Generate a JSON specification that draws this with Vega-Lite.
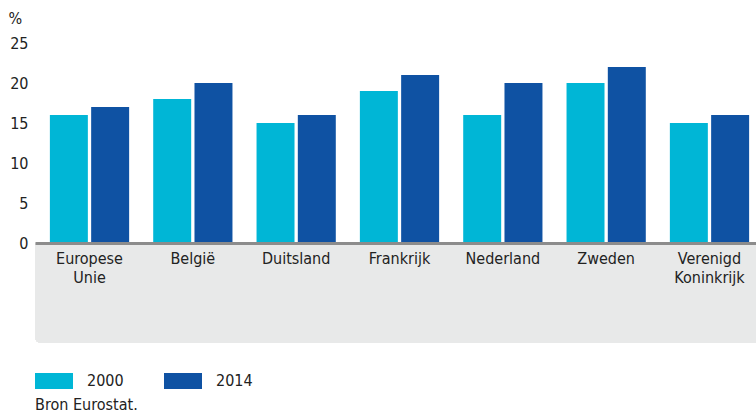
{
  "$schema": "https://vega.github.io/schema/vega-lite/v6.json",
  "width": 729,
  "height": 200,
  "autosize": {"type": "none"},
  "padding": {"left": 35, "top": 43, "right": 0, "bottom": 173},
  "background": "white",
  "config": {
    "font": "DejaVu Sans Condensed",
    "view": {"stroke": null},
    "axis": {"labelFont": "DejaVu Sans Condensed", "titleFont": "DejaVu Sans Condensed"},
    "legend": {"labelFont": "DejaVu Sans Condensed"},
    "title": {"font": "DejaVu Sans Condensed"}
  },
  "title": {
    "text": "Bron Eurostat.",
    "orient": "bottom",
    "anchor": "start",
    "frame": "group",
    "fontSize": 16,
    "fontWeight": "normal",
    "color": "#222222",
    "offset": 8
  },
  "data": {
    "values": [
      {"land": "Europese Unie", "jaar": "2000", "waarde": 16},
      {"land": "Europese Unie", "jaar": "2014", "waarde": 17},
      {"land": "België", "jaar": "2000", "waarde": 18},
      {"land": "België", "jaar": "2014", "waarde": 20},
      {"land": "Duitsland", "jaar": "2000", "waarde": 15},
      {"land": "Duitsland", "jaar": "2014", "waarde": 16},
      {"land": "Frankrijk", "jaar": "2000", "waarde": 19},
      {"land": "Frankrijk", "jaar": "2014", "waarde": 21},
      {"land": "Nederland", "jaar": "2000", "waarde": 16},
      {"land": "Nederland", "jaar": "2014", "waarde": 20},
      {"land": "Zweden", "jaar": "2000", "waarde": 20},
      {"land": "Zweden", "jaar": "2014", "waarde": 22},
      {"land": "Verenigd Koninkrijk", "jaar": "2000", "waarde": 15},
      {"land": "Verenigd Koninkrijk", "jaar": "2014", "waarde": 16}
    ]
  },
  "layer": [
    {
      "mark": {"type": "rect", "color": "#e8e9e9", "cornerRadiusBottomLeft": 6},
      "encoding": {
        "x": {"value": 0},
        "x2": {"value": "width"},
        "y": {
          "datum": 0,
          "type": "quantitative",
          "scale": {"domain": [0, 25], "nice": false, "zero": false},
          "axis": {
            "values": [0, 5, 10, 15, 20, 25],
            "labelOverlap": false,
            "title": "%",
            "titleAngle": 0,
            "titleAlign": "left",
            "titleBaseline": "alphabetic",
            "titleX": -27,
            "titleY": -20,
            "titleFontSize": 16,
            "titleFontWeight": "normal",
            "titleColor": "#222222",
            "domain": false,
            "ticks": false,
            "labelFontSize": 16,
            "labelColor": "#222222",
            "labelPadding": 7,
            "gridColor": "#8c8c8c",
            "gridWidth": 1
          }
        },
        "y2": {"datum": -12.5}
      }
    },
    {
      "mark": {"type": "bar"},
      "encoding": {
        "x": {
          "field": "land",
          "type": "nominal",
          "sort": null,
          "scale": {"paddingInner": 0.233, "paddingOuter": 0.144},
          "axis": {
            "title": null,
            "labelAngle": 0,
            "ticks": false,
            "domain": true,
            "domainColor": "#8c8c8c",
            "domainWidth": 3,
            "labelFontSize": 16,
            "labelColor": "#222222",
            "labelPadding": 7,
            "labelLineHeight": 19,
            "labelBaseline": "top",
            "labelExpr": "split(datum.label, ' ')",
            "zindex": 2
          }
        },
        "xOffset": {
          "field": "jaar",
          "type": "nominal",
          "scale": {"paddingInner": 0.08}
        },
        "y": {
          "field": "waarde",
          "type": "quantitative",
          "scale": {"domain": [0, 25], "nice": false, "zero": false},
          "axis": {
            "values": [0, 5, 10, 15, 20, 25],
            "labelOverlap": false,
            "title": "%",
            "titleAngle": 0,
            "titleAlign": "left",
            "titleBaseline": "alphabetic",
            "titleX": -27,
            "titleY": -20,
            "titleFontSize": 16,
            "titleFontWeight": "normal",
            "titleColor": "#222222",
            "domain": false,
            "ticks": false,
            "labelFontSize": 16,
            "labelColor": "#222222",
            "labelPadding": 7,
            "gridColor": "#8c8c8c",
            "gridWidth": 1
          }
        },
        "color": {
          "field": "jaar",
          "type": "nominal",
          "scale": {"domain": ["2000", "2014"], "range": ["#00b6d6", "#0f52a3"]},
          "legend": {
            "title": null,
            "orient": "none",
            "legendX": 0,
            "legendY": 319,
            "direction": "horizontal",
            "symbolType": "M-1,-0.42H1V0.42H-1Z",
            "symbolSize": 1444,
            "symbolStrokeWidth": 0,
            "labelFontSize": 16,
            "labelColor": "#222222",
            "labelOffset": 14,
            "columnPadding": 40
          }
        }
      }
    }
  ]
}
